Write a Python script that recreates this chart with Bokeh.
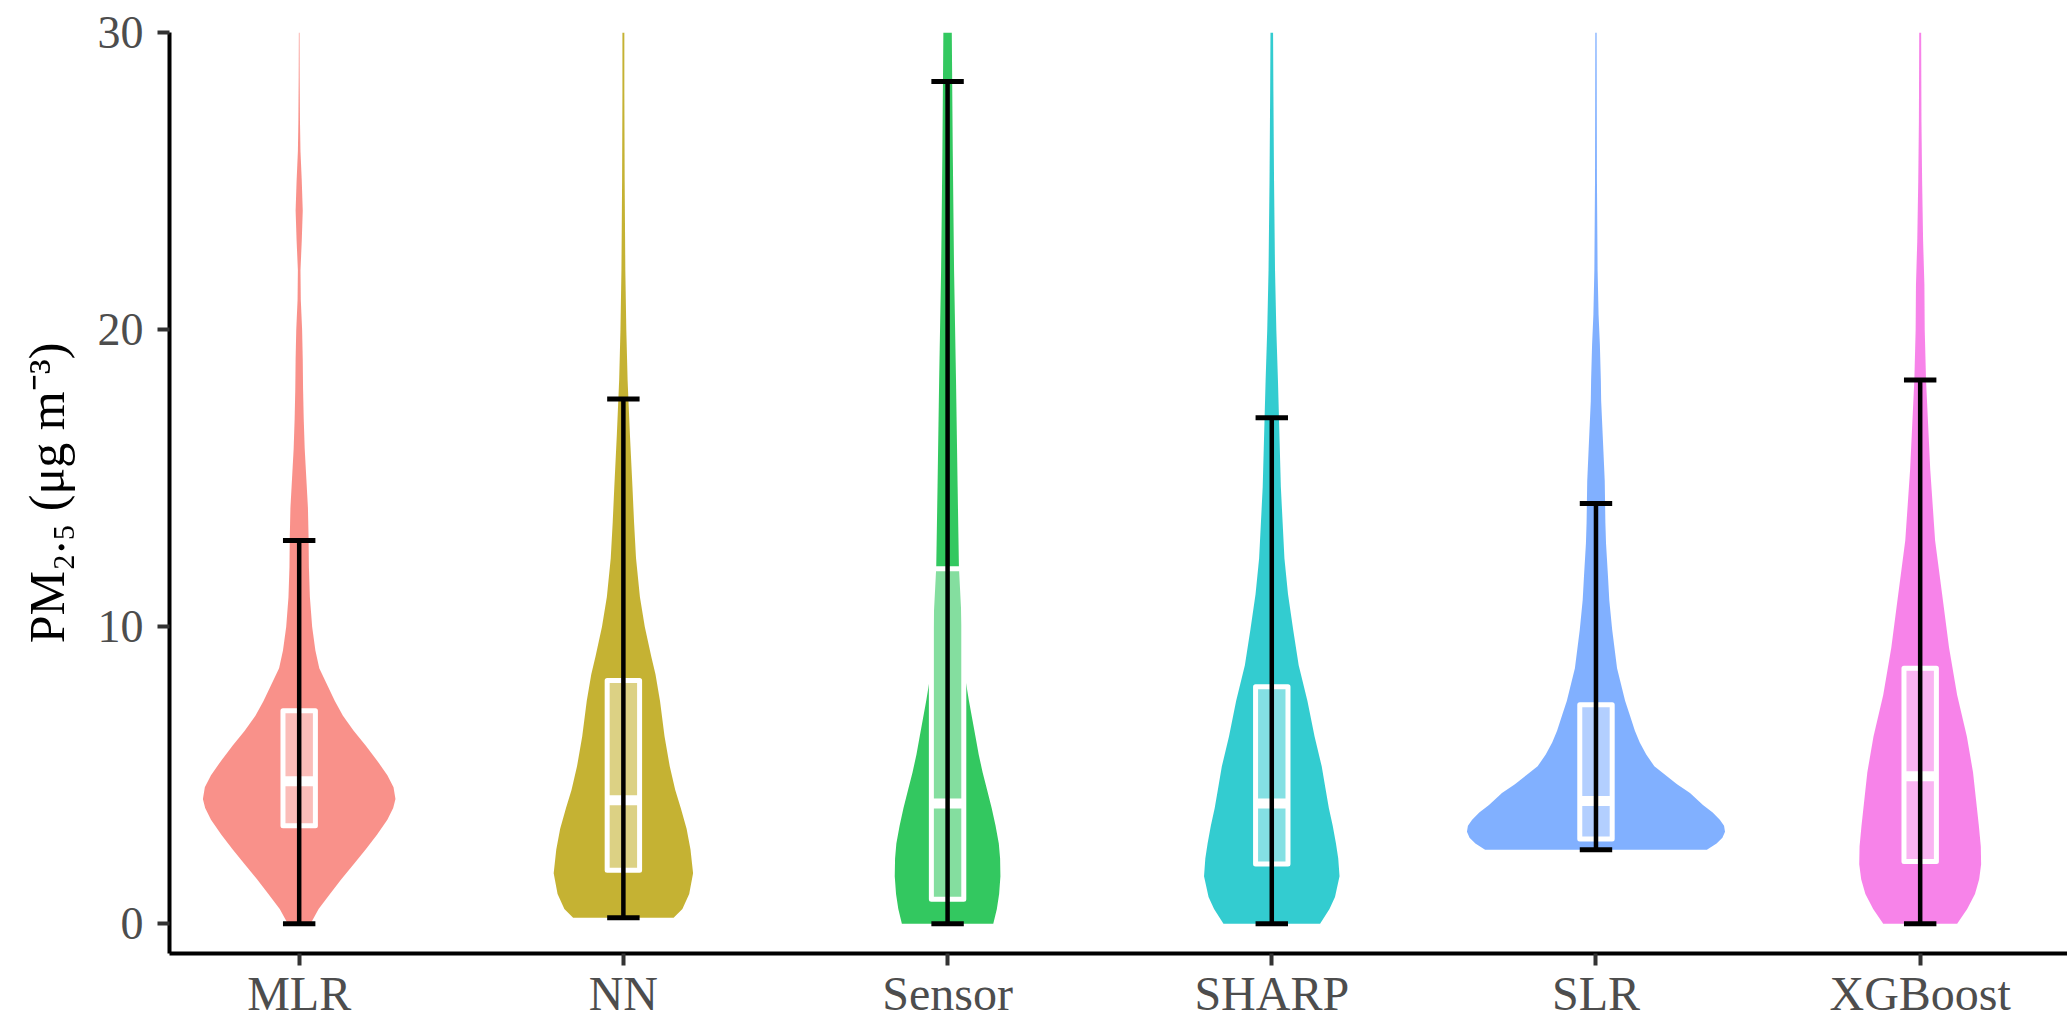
import numpy as np
from bokeh.plotting import figure
from bokeh.models import Range1d, FixedTicker
from bokeh.embed import file_html
from bokeh.resources import INLINE

# ---------------- data ----------------
categories = ["MLR", "NN", "Sensor", "SHARP", "SLR", "XGBoost"]
colors = ["#F8766D", "#B79F00", "#00BA38", "#00BFC4", "#619CFF", "#F564E3"]

q1 = [3.30, 1.80, 0.83, 2.01, 2.85, 2.10]
median = [4.80, 4.16, 4.05, 4.05, 4.13, 4.97]
q3 = [7.17, 8.19, 11.95, 7.98, 7.37, 8.60]
whisker_lo = [0.0, 0.2, 0.0, 0.0, 2.49, 0.0]
whisker_hi = [12.9, 17.66, 28.35, 17.03, 14.15, 18.3]

# violin outlines: PM2.5 level and half-width (x units)
mlr_y = [0, 0.5, 1.0, 1.5, 2.0, 2.5, 3.0, 3.5, 3.9, 4.2, 4.6, 5.0, 5.5, 6.0, 6.5, 7.0, 7.5, 8.0, 8.6, 9.2,
         10.0, 11.0, 12.0, 13.0, 14.0, 15.0, 16.0, 17.0, 18.0, 19.0, 20.0, 21.0, 22.0, 23.0, 24.0, 25.0,
         26.0, 27.0, 28.5, 30.0]
mlr_w = [.035, .06, .095, .13, .168, .205, .24, .272, .29, .297, .291, .272, .24, .205, .168, .135, .11, .088,
         .062, .05, .04, .033, .03, .029, .027, .022, .017, .014, .012, .011, .009, .005, .004, .008, .011,
         .008, .004, .0025, .0015, .001]
nn_y = [0.2, 0.5, 1.0, 1.7, 2.5, 3.2, 3.9, 4.5, 5.3, 6.3, 7.5, 8.4, 9.0, 10.0, 11.0, 12.3, 13.5, 14.7,
        16.5, 18.3, 20, 22, 25, 28, 30]
nn_w = [.155, .182, .203, .215, .207, .195, .177, .16, .143, .127, .113, .099, .086, .066, .051, .039,
        .033, .028, .02, .013, .009, .006, .004, .003, .003]
sensor_y = [0, 0.5, 1.0, 1.6, 2.2, 2.7, 3.3, 3.9, 4.5, 5.1, 5.7, 6.3, 6.9, 7.5, 8.1, 9.0, 10.5, 12.0,
            14.7, 18.3, 22, 26, 30]
sensor_w = [.141, .152, .159, .163, .162, .158, .148, .136, .122, .108, .096, .086, .076, .066, .057,
            .05, .042, .035, .031, .026, .02, .016, .013]
sharp_y = [0, 0.5, 0.9, 1.6, 2.2, 2.7, 3.3, 3.9, 4.6, 5.3, 6.3, 7.5, 8.7, 9.9, 11.1, 12.3, 14.7, 18.3,
           20, 22, 25, 28, 30]
sharp_w = [.149, .178, .195, .209, .205, .198, .188, .176, .165, .154, .132, .11, .083, .066, .05, .039,
           .028, .019, .014, .01, .007, .005, .004]
slr_y = [2.49, 2.7, 2.9, 3.1, 3.3, 3.5, 3.75, 4.0, 4.4, 4.7, 5.0, 5.3, 5.7, 6.1, 6.5, 7.0, 7.5, 8.6, 9.9,
         10.9, 11.7, 12.8, 13.5, 14.9, 15.9, 17.6, 18.3, 19.5, 20.5, 22, 25, 30]
slr_w = [.342, .372, .39, .398, .395, .382, .36, .33, .29, .25, .215, .18, .155, .135, .12, .105, .09,
         .065, .05, .041, .037, .031, .029, .027, .023, .016, .015, .012, .008, .005, .003, .002]
xgb_y = [0, 0.5, 1.0, 1.5, 2.0, 2.6, 3.3, 4.2, 5.1, 6.3, 7.7, 9.3, 10.9, 12.9, 15.3, 18.3, 20, 21.5,
         23, 25, 27, 30]
xgb_w = [.114, .145, .169, .182, .188, .187, .181, .172, .163, .144, .114, .089, .07, .046, .031, .018,
         .014, .013, .009, .006, .004, .003]

violin_y = [mlr_y, nn_y, sensor_y, sharp_y, slr_y, xgb_y]
violin_w = [mlr_w, nn_w, sensor_w, sharp_w, slr_w, xgb_w]

y_ticks = [0, 10, 20, 30]
y_title = "PM\u2082.\u2085 (\u03bcg m\u207b\u00b3)"

# ---------------- layout constants ----------------
FONT = "Liberation Serif"
W, H = 2067, 1028
FRAME_LEFT, FRAME_TOP, FRAME_BOTTOM = 169, 32, 953
UNIT_PX = 324.2

x_end = 0.6 + (W - FRAME_LEFT) / UNIT_PX
p = figure(width=W, height=H, output_backend="svg", toolbar_location=None,
           x_range=Range1d(0.6, x_end), y_range=Range1d(-1.0, 30.0),
           min_border_left=FRAME_LEFT, min_border_right=0,
           min_border_top=FRAME_TOP, min_border_bottom=H - FRAME_BOTTOM)
p.outline_line_color = None
p.xgrid.visible = False
p.ygrid.visible = False
p.background_fill_color = "white"
p.border_fill_color = "white"

pos = [i + 1 for i in range(len(categories))]

for i, c in enumerate(pos):
    y = np.array(violin_y[i], dtype=float)
    w = np.array(violin_w[i], dtype=float)
    p.harea(x1=c - w, x2=c + w, y=y, fill_color=colors[i], fill_alpha=0.8)

box_half = 0.05
p.quad(left=[c - box_half for c in pos], right=[c + box_half for c in pos],
       bottom=q1, top=q3, fill_color="white", fill_alpha=0.4,
       line_color="white", line_width=5, line_join="round")
p.segment(x0=[c - box_half for c in pos], x1=[c + box_half for c in pos],
          y0=median, y1=median, line_color="white", line_width=10)

# whisker error bars
p.segment(x0=pos, x1=pos, y0=whisker_lo, y1=whisker_hi, line_color="black", line_width=4.5)
cap = 0.05
p.segment(x0=[c - cap for c in pos], x1=[c + cap for c in pos], y0=whisker_lo, y1=whisker_lo,
          line_color="black", line_width=5)
p.segment(x0=[c - cap for c in pos], x1=[c + cap for c in pos], y0=whisker_hi, y1=whisker_hi,
          line_color="black", line_width=5)

# axes
p.xaxis.ticker = FixedTicker(ticks=pos)
p.xaxis.major_label_overrides = {c: categories[i] for i, c in enumerate(pos)}
p.yaxis.ticker = FixedTicker(ticks=y_ticks)
for ax in (p.xaxis[0], p.yaxis[0]):
    ax.axis_line_color = "black"
    ax.axis_line_width = 4
    ax.major_tick_line_color = "#333333"
    ax.major_tick_line_width = 4
    ax.major_tick_out = 12
    ax.major_tick_in = 0
    ax.minor_tick_line_color = None
    ax.major_label_text_font = FONT
    ax.major_label_text_color = "#4D4D4D"
p.xaxis.major_label_text_font_size = "48px"
p.yaxis.major_label_text_font_size = "46px"
p.xaxis.major_label_standoff = 1
p.yaxis.major_label_standoff = 14

p.yaxis.axis_label = y_title
p.yaxis.axis_label_text_font = FONT
p.yaxis.axis_label_text_font_size = "50px"
p.yaxis.axis_label_text_font_style = "normal"
p.yaxis.axis_label_text_color = "black"
p.yaxis.axis_label_standoff = 20

open("out.html", "w").write(file_html(p, INLINE))
